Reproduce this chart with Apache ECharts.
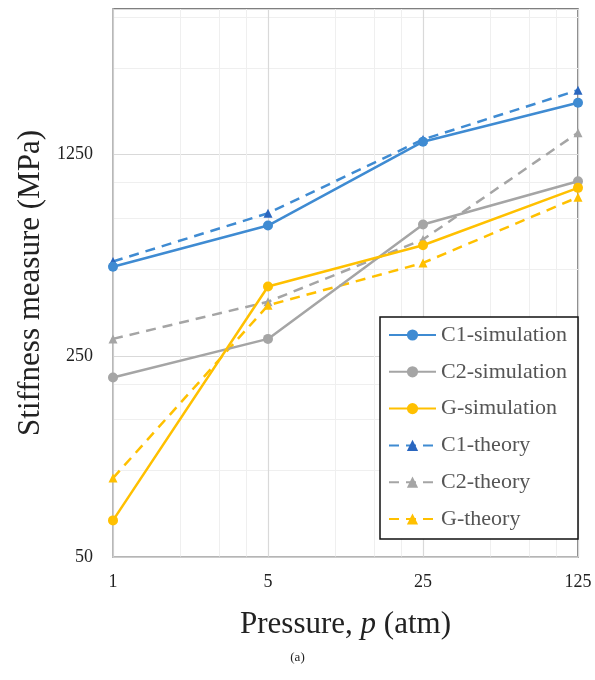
<!DOCTYPE html>
<html>
<head>
<meta charset="utf-8">
<script src="https://cdn.jsdelivr.net/npm/echarts@6/dist/echarts.min.js"></script>
<style>
html,body{margin:0;padding:0;background:#fff;}
#chart{width:595px;height:680px;}
</style>
</head>
<body>
<div id="chart"></div>
<script>
const pressures = [1, 5, 25, 125];
const c1Sim = [509, 708, 1384, 1890];
const c2Sim = [210, 286, 714, 1009];
const gSim = [67, 435, 605, 957];
const c1Theory = [531, 781, 1409, 2090];
const c2Theory = [286, 385, 633, 1487];
const gTheory = [94, 374, 525, 888];
const yTickLabels = [50, 250, 1250];
const xTickLabels = [1, 5, 25, 125];

const FONT = '"Liberation Serif", "Times New Roman", serif';
const BLUE = '#3f8bd2', BLUE_D = '#2a66bf', GRAY = '#a5a5a5', GOLD = '#ffc000';

function pts(arr){ return pressures.map((p,i)=>[p, arr[i]]); }
function near(list, v){ return list.find(t => Math.abs(t - v) / t < 0.01); }
function sim(name, arr, color){
  return {name, type:'line', data:pts(arr), symbol:'circle', symbolSize:10,
    lineStyle:{color, width:2.5}, itemStyle:{color}, z:3};
}
function theo(name, arr, color, mcolor){
  return {name, type:'line', data:pts(arr), symbol:'triangle', symbolSize:9,
    lineStyle:{color, width:2.5, type:[10,7]}, itemStyle:{color:mcolor}, z:2};
}

const chart = echarts.init(document.getElementById('chart'), null, {renderer:'canvas'});
chart.setOption({
  animation:false,
  graphic:[{type:'text', left:'center', top:651, style:{text:'(a)', font:'13px "Liberation Serif", serif', fill:'#222'}}],
  grid:{left:113, right:17, top:9, bottom:123, show:true, borderColor:'#555', borderWidth:1.5,
    containLabel:false, outerBoundsMode:'none'},
  xAxis:{type:'log', logBase:5, min:1, max:125,
    name:'{a|Pressure, }{i|p}{a| (atm)}', nameLocation:'middle', nameGap:52,
    nameTextStyle:{rich:{a:{fontFamily:FONT, fontSize:31, color:'#222'}, i:{fontFamily:FONT, fontSize:31, fontStyle:'italic', color:'#222'}}},
    axisLine:{show:true, lineStyle:{color:'#c8c8c8', width:1.5}},
    axisTick:{show:false},
    axisLabel:{fontFamily:FONT, fontSize:18, color:'#222', margin:16,
      formatter:v=> { const t = near(xTickLabels, v); return t ? String(t) : ''; }},
    splitLine:{show:true, lineStyle:{color:'#d9d9d9', width:1.2}},
    minorTick:{show:false, splitNumber:4},
    minorSplitLine:{show:true, lineStyle:{color:'#efefef', width:1}}
  },
  yAxis:{type:'log', logBase:5, min:50, max:4000, interval:1,
    name:'Stiffness measure (MPa)', nameLocation:'middle', nameGap:59, nameRotate:90,
    nameTextStyle:{fontFamily:FONT, fontSize:31, color:'#222'},
    axisLine:{show:true, lineStyle:{color:'#c8c8c8', width:1.5}},
    axisTick:{show:false},
    axisLabel:{fontFamily:FONT, fontSize:18, color:'#222', margin:20, showMaxLabel:false,
      formatter:v=> { const t = near(yTickLabels, v); return t ? String(t) : ''; }},
    splitLine:{show:true, lineStyle:{color:'#d9d9d9', width:1.2}},
    minorTick:{show:false, splitNumber:4},
    minorSplitLine:{show:true, lineStyle:{color:'#efefef', width:1}}
  },
  legend:{orient:'vertical', right:17, top:317, itemWidth:47, itemHeight:14, itemGap:14.8,
    padding:[7,9,9,8], backgroundColor:'#fff', borderColor:'#111', borderWidth:1.5, borderRadius:0,
    textStyle:{fontFamily:FONT, fontSize:22, color:'#555', lineHeight:21, width:128},
    data:['C1-simulation','C2-simulation','G-simulation','C1-theory','C2-theory','G-theory']},
  series:[
    sim('C1-simulation', c1Sim, BLUE),
    sim('C2-simulation', c2Sim, GRAY),
    sim('G-simulation', gSim, GOLD),
    theo('C1-theory', c1Theory, BLUE, BLUE_D),
    theo('C2-theory', c2Theory, GRAY, GRAY),
    theo('G-theory', gTheory, GOLD, GOLD)
  ]
});
</script>
</body>
</html>
